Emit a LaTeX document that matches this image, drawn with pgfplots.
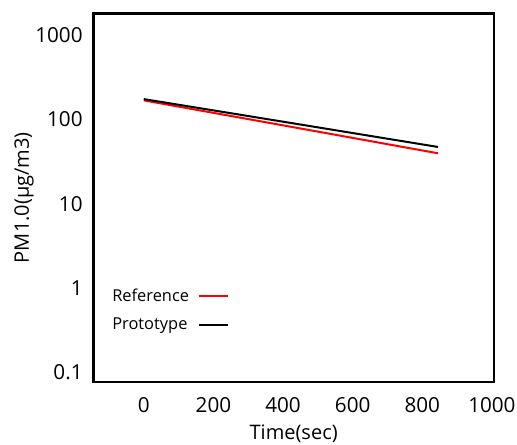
\documentclass[border=0pt]{standalone}
\usepackage{pgfplots}
\pgfplotsset{compat=1.18}
\usepackage{fontspec}
\setmainfont{Open Sans}
\begin{document}
\begin{tikzpicture}
\begin{semilogyaxis}[
  scale only axis,
  width=300.5pt, height=276.5pt,
  xmin=-145, xmax=1006,
  ymin=0.0767, ymax=1825,
  axis line style={line width=2pt},
  major tick length=0pt, minor tick length=0pt,
  xtick={0,200,400,600,800,1000},
  xticklabels={0,200,400,600,800,1000},
  ytick={0.1,1,10,100,1000},
  yticklabels={0.1,1,10,100,1000},
  /pgf/number format/assume math mode=true,
  tick label style={font=\fontsize{15.5}{18}\selectfont},
  yticklabel style={xshift=-4.5pt},
  xticklabel style={yshift=-8pt},
  xlabel={Time(sec)},
  ylabel={PM1.0(µg/m3)},
  label style={font=\fontsize{15}{18}\selectfont},
  xlabel style={at={(axis description cs:0.5,0)}, anchor=center, yshift=-39pt},
  ylabel style={at={(axis description cs:0,0.5)}, anchor=center, yshift=52pt},
  legend plot pos=right,
  legend cell align=left,
  legend image code/.code={\draw[#1] (0pt,0pt) -- (22pt,0pt);},
  legend style={draw=none, fill=none, at={(axis description cs:0.04,0.194)}, anchor=west,
    font=\fontsize{12.3}{14}\selectfont, row sep=7pt, column sep=4.5pt, inner sep=0pt},
]
\addplot[red, line width=1.5pt] coordinates {(0,169) (400,85.4) (845,39.8)};
\addlegendentry{Reference}
\addplot[black, line width=1.5pt] coordinates {(0,175) (400,94.4) (845,47.3)};
\addlegendentry{Prototype}
\end{semilogyaxis}
\pgfresetboundingbox
\path ([shift={(-70pt,-47.25pt)}]current axis.south west) rectangle ([shift={(17.25pt,10pt)}]current axis.north east);
\end{tikzpicture}
\end{document}
